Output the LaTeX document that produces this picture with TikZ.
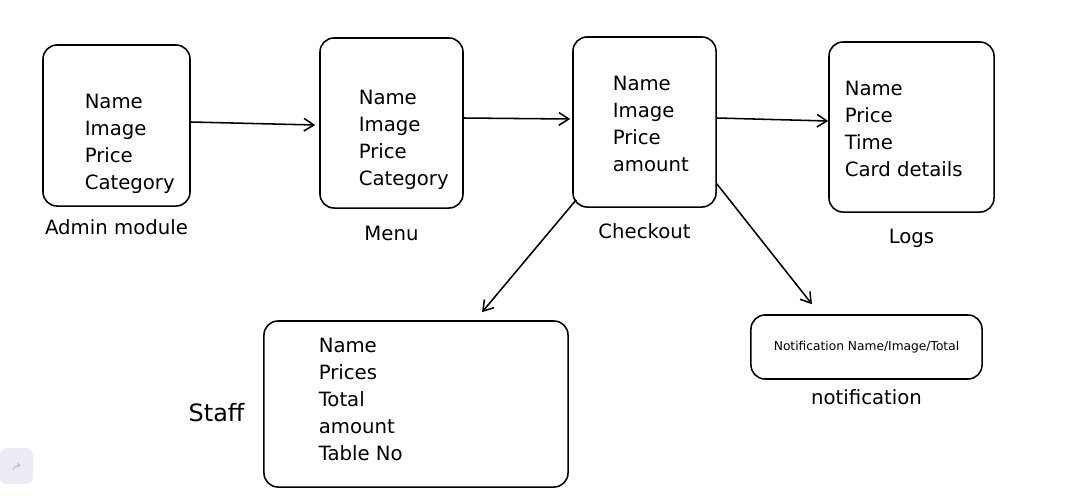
\documentclass[tikz,border=0pt]{standalone}
\usepackage{fontspec}
\setmainfont{DejaVu Sans}
\usetikzlibrary{arrows.meta,positioning}

\begin{document}
\begin{tikzpicture}[x=0.025cm,y=-0.025cm,>={Straight Barb[length=7pt,width=9pt]},line width=1.1pt,
 box/.style={draw,rounded corners=10pt,inner sep=0pt},
 fields/.style={align=left,anchor=west,inner sep=0pt,font=\fontsize{14}{19.2}\selectfont},
 caption/.style={inner sep=0pt,font=\fontsize{14}{16}\selectfont}]
 \useasboundingbox (0,0) rectangle (1081,495);

 % boxes
 \node[box,minimum width=3.675cm,minimum height=4.025cm] (admin) at (116.5,125.5) {};
 \node[box,minimum width=3.575cm,minimum height=4.25cm] (menu) at (391.5,123) {};
 \node[box,minimum width=3.575cm,minimum height=4.25cm] (checkout) at (644.5,122) {};
 \node[box,minimum width=4.125cm,minimum height=4.25cm] (logs) at (911.5,127) {};
 \node[box,minimum width=7.6cm,minimum height=4.15cm] (staff) at (416,404) {};
 \node[box,minimum width=5.775cm,minimum height=1.6cm,font=\fontsize{8.7}{10}\selectfont]
   (notif) at (866.5,347) {Notification Name/Image/Total};

 % fields inside the boxes
 \node[fields] (adminfields) at (84,144) {Name\\Image\\Price\\Category};
 \node[fields] (menufields) at (358,140) {Name\\Image\\Price\\Category};
 \node[fields] (checkoutfields) at (612,124) {Name\\Image\\Price\\amount};
 \node[fields] (logsfields) at (844,129) {Name\\Price\\Time\\Card details};
 \node[fields] (stafffields) at (318,399.5) {Name\\Prices\\Total\\amount\\Table No};

 % captions
 \node[caption] (admincap) [below=0.3cm of admin] {Admin module};
 \node[caption] (menucap) [below=0.42cm of menu] {Menu};
 \node[caption] (checkoutcap) [below=0.37cm of checkout] {Checkout};
 \node[caption] (logscap) [below=0.4cm of logs] {Logs};
 \node[caption] (notifcap) [below=0.22cm of notif] {notification};
 \node[caption,font=\fontsize{17}{19}\selectfont,yshift=-0.22cm] (staffcap) [left=0.45cm of staff] {Staff};

 % arrows
 \draw[->] ([shift={(0,-3.5)}]admin.east) -- ([shift={(-4,2)}]menu.west);
 \draw[->] ([shift={(0,-5)}]menu.east) -- ([shift={(-2,-3)}]checkout.west);
 \draw[->] ([shift={(0,-4)}]checkout.east) -- ([shift={(0,-6)}]logs.west);
 \draw[->] ([shift={(4,-8)}]checkout.south west) -- ([shift={(66,-8)}]staff.north);
 \draw[->] ([shift={(0,-24)}]checkout.south east) -- ([shift={(-54.5,-10)}]notif.north);

 % undo button
 \node[fill={rgb,255:red,236;green,236;blue,244},rounded corners=5pt,minimum width=0.825cm,minimum height=0.9cm] (undo) at (16.5,466) {};
 \draw[gray!60,line width=0.5pt,->,>={Straight Barb[length=2pt,width=3pt]}]
   ([shift={(-3,4)}]undo.center) to[out=90,in=180] ([shift={(4,-1)}]undo.center);
\end{tikzpicture}
\end{document}
